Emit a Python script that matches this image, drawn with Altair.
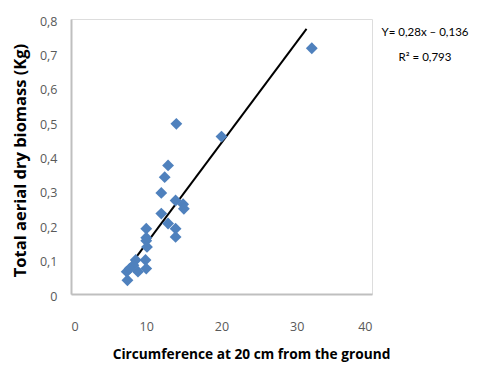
import altair as alt
import pandas as pd

circumference = [32, 14, 20, 12.9, 12.45, 12.0, 13.9, 14.9, 15.0, 12.0, 12.9, 13.9, 13.9,
                 10.0, 10.0, 10.0, 10.1, 9.9, 10.0, 8.6, 8.3, 8.9, 7.4, 7.5, 7.8]
biomass = [0.715, 0.495, 0.458, 0.374, 0.340, 0.294, 0.272, 0.261, 0.248, 0.234, 0.205, 0.190, 0.166,
           0.190, 0.164, 0.155, 0.137, 0.099, 0.074, 0.099, 0.084, 0.065, 0.065, 0.040, 0.074]

trend_x = [7.4, 31.3]
trend_y = [0.070, 0.771]

x_ticks = [0, 10, 20, 30, 40]
y_ticks = [0, 0.1, 0.2, 0.3, 0.4, 0.5, 0.6, 0.7, 0.8]

equation = "Y= 0,28x \u2013 0,136"
r_squared = "R\u00b2 = 0,793"

pts = pd.DataFrame({"x": circumference, "y": biomass})
trend = pd.DataFrame({"x": trend_x, "y": trend_y})

LBL = "Open Sans"
TTL = "Open Sans"

xscale = alt.Scale(domain=[0, 40], nice=False, zero=False)
yscale = alt.Scale(domain=[0, 0.8], nice=False)

xaxis = alt.Axis(values=x_ticks, tickCount=10, grid=False, ticks=False, tickSize=0,
                 labelOverlap=False,
                 labelPadding=26, labelColor="#595959", labelFont=LBL, labelFontSize=12.5,
                 domainColor="#BFBFBF", domainWidth=2,
                 title="Circumference at 20 cm from the ground", titleFont=TTL,
                 titleFontSize=13.7, titleFontWeight="bold", titleColor="black",
                 titleX=180, titleY=60, titleBaseline="middle", titleAlign="center")
yaxis = alt.Axis(values=y_ticks, tickCount=20, grid=False, ticks=False, tickSize=0,
                 labelOverlap=False, labelBound=False,
                 labelPadding=14, labelOffset=2, labelColor="#595959", labelFont=LBL,
                 labelFontSize=12.5, format=".1~f",
                 domainColor="#BFBFBF", domainWidth=2,
                 title="Total aerial dry biomass (Kg)", titleFont=TTL, titleFontSize=16.5,
                 titleFontWeight="bold", titleColor="black", titleAngle=-90,
                 titleX=-51, titleY=141, titleBaseline="middle", titleAlign="center")

points = alt.Chart(pts).mark_point(shape="diamond", filled=True, size=140, color="#4F81BD",
                                   opacity=1).encode(
    x=alt.X("x:Q", scale=xscale, axis=xaxis),
    y=alt.Y("y:Q", scale=yscale, axis=yaxis),
)

line = alt.Chart(trend).mark_line(color="black", strokeWidth=2).encode(
    x=alt.X("x:Q", scale=xscale),
    y=alt.Y("y:Q", scale=yscale),
)

eq_text = alt.Chart(pd.DataFrame({"t": [equation]})).mark_text(
    font="Lato", fontSize=11.5, color="black", align="center", baseline="middle").encode(
    text="t:N", x=alt.value(354), y=alt.value(14))
r2_text = alt.Chart(pd.DataFrame({"t": [r_squared]})).mark_text(
    font="Lato", fontSize=11.5, color="black", align="center", baseline="middle").encode(
    text="t:N", x=alt.value(354), y=alt.value(39))

chart = alt.layer(line, points, eq_text, r2_text).properties(
    width=301, height=275,
    autosize=alt.AutoSizeParams(type="none"),
    padding={"left": 63, "top": 11, "right": 98, "bottom": 68},
).configure_view(stroke=None).configure(background="white")

chart.save("out.html", embed_options={
    "renderer": "svg", "actions": False,
    "formatLocale": {"decimal": ",", "thousands": ".", "grouping": [3], "currency": ["", "\u20ac"]},
})
